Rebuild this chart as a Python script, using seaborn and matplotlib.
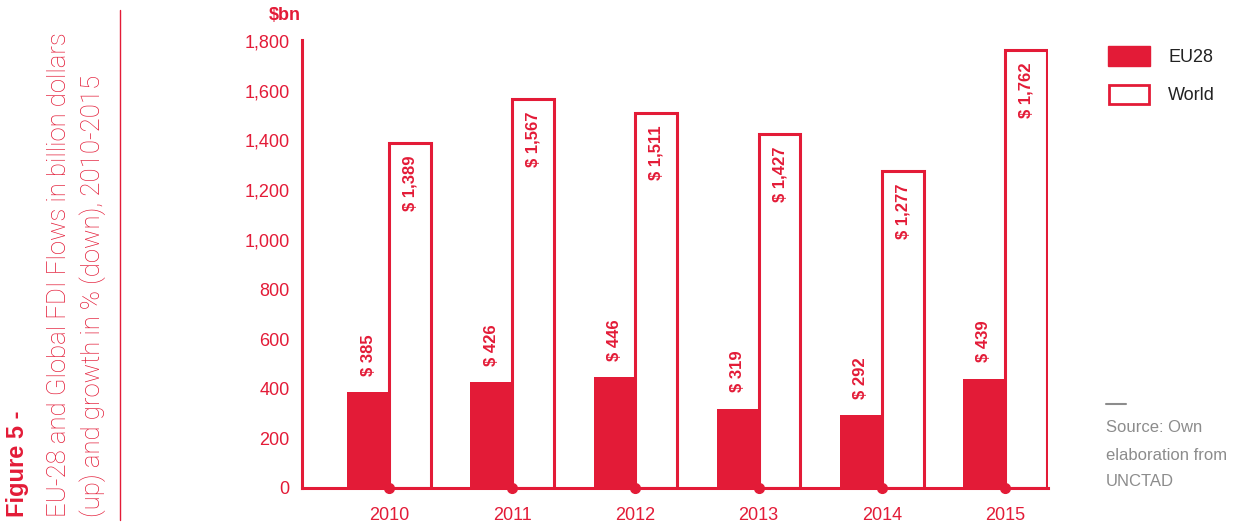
import matplotlib
matplotlib.use("Agg")
import matplotlib.pyplot as plt
import seaborn as sns
import pandas as pd
from matplotlib.patches import Rectangle

years = ["2010", "2011", "2012", "2013", "2014", "2015"]
eu28 = [385, 426, 446, 319, 292, 439]
world = [1389, 1567, 1511, 1427, 1277, 1762]
eu_labels = ["$ 385", "$ 426", "$ 446", "$ 319", "$ 292", "$ 439"]
world_labels = ["$ 1,389", "$ 1,567", "$ 1,511", "$ 1,427", "$ 1,277", "$ 1,762"]
yticks = [0, 200, 400, 600, 800, 1000, 1200, 1400, 1600, 1800]
ytick_labels = ["0", "200", "400", "600", "800", "1,000", "1,200", "1,400", "1,600", "1,800"]

RED = "#E31B37"
GRAY = "#8C8C8C"

sns.set_theme(style="white")
plt.rcParams['font.family'] = ['Liberation Sans', 'DejaVu Sans']
LIGHTFAM = ['Roboto', 'Liberation Sans', 'DejaVu Sans']

df = pd.DataFrame({
    "year": years * 2,
    "value": eu28 + world,
    "series": ["EU28"] * len(years) + ["World"] * len(years),
})

fig = plt.figure(figsize=(12.44, 5.28), dpi=100)
ax = fig.add_axes([302/1244, 1 - 488/528, (1048-302)/1244, (488-40)/528])

sns.barplot(data=df, x="year", y="value", hue="series", ax=ax,
            palette={"EU28": RED, "World": RED}, width=0.68, gap=0,
            saturation=1, legend=False, linewidth=0, errorbar=None)

n = len(years)
for i, p in enumerate(ax.patches[:2 * n]):
    if i >= n:
        p.set_facecolor("white")
        p.set_edgecolor(RED)
        p.set_linewidth(2.2)
        p.set_zorder(2)
    else:
        p.set_zorder(3)

for i, p in enumerate(ax.patches[:2 * n]):
    cx = p.get_x() + p.get_width() / 2
    h = p.get_height()
    if i < n:
        ax.annotate(eu_labels[i], (cx, h), xytext=(0, 12), textcoords="offset points",
                    rotation=90, ha="center", va="bottom", color=RED,
                    fontsize=12, fontweight="bold", zorder=5)
    else:
        ax.annotate(world_labels[i - n], (cx, h), xytext=(0, -9), textcoords="offset points",
                    rotation=90, ha="center", va="top", color=RED,
                    fontsize=12, fontweight="bold", zorder=5)

ax.plot(range(n), [0] * n, "o", color=RED, ms=7, clip_on=False, zorder=6)

ax.set_xlim(-0.708, 5.35)
ax.set_ylim(0, 1800 * 448 / 447)
ax.set_yticks(yticks)
ax.set_yticklabels(ytick_labels)
ax.set_xticks(range(n))
ax.set_xticklabels(years)
ax.set_xlabel("")
ax.set_ylabel("")
ax.tick_params(axis="both", length=0, colors=RED, labelsize=13)
ax.tick_params(axis="y", pad=9)
ax.tick_params(axis="x", pad=14)
for s in ["top", "right"]:
    ax.spines[s].set_visible(False)
for s in ["left", "bottom"]:
    ax.spines[s].set_color(RED)
    ax.spines[s].set_linewidth(2.2)
    ax.spines[s].set_zorder(4)

fig.text(285/1244, 1 - 16/528, "$bn", color=RED, fontsize=13, fontweight="bold",
         ha="center", va="center")

# legend
fig.patches.append(Rectangle((1108/1244, 1 - 66/528), 42/1244, 20/528,
                             transform=fig.transFigure, facecolor=RED, edgecolor=RED))
fig.patches.append(Rectangle((1109/1244, 1 - 104/528), 40/1244, 19/528,
                             transform=fig.transFigure, facecolor="white", edgecolor=RED,
                             linewidth=2))
fig.text(1168/1244, 1 - 57/528, "EU28", color="#222222", fontsize=13, va="center")
fig.text(1168/1244, 1 - 95/528, "World", color="#222222", fontsize=13, va="center")

# source
fig.add_artist(plt.Line2D([1106/1244, 1126/1244], [1 - 404/528, 1 - 404/528],
                          transform=fig.transFigure, color=GRAY, lw=1.5))
for yy, t in [(428, "Source: Own"), (455, "elaboration from"), (481, "UNCTAD")]:
    fig.text(1106/1244, 1 - yy/528, t, color=GRAY, fontsize=12, va="center")

# left title
fig.text(18/1244, 1 - 517/528, "Figure 5 -", color=RED, fontsize=17, fontweight="bold",
         rotation=90, ha="center", va="bottom")
fig.text(59/1244, 1 - 517/528, "EU-28 and Global FDI Flows in billion dollars",
         color=RED, fontsize=18.5, rotation=90, ha="center", va="bottom",
         fontweight="light", family=LIGHTFAM)
fig.text(93/1244, 1 - 517/528, "(up) and growth in % (down), 2010-2015",
         color=RED, fontsize=18.5, rotation=90, ha="center", va="bottom",
         fontweight="light", family=LIGHTFAM)
fig.add_artist(plt.Line2D([120/1244, 120/1244], [1 - 520/528, 1 - 10/528],
                          transform=fig.transFigure, color=RED, lw=1))

fig.savefig("out.png", dpi=100)
